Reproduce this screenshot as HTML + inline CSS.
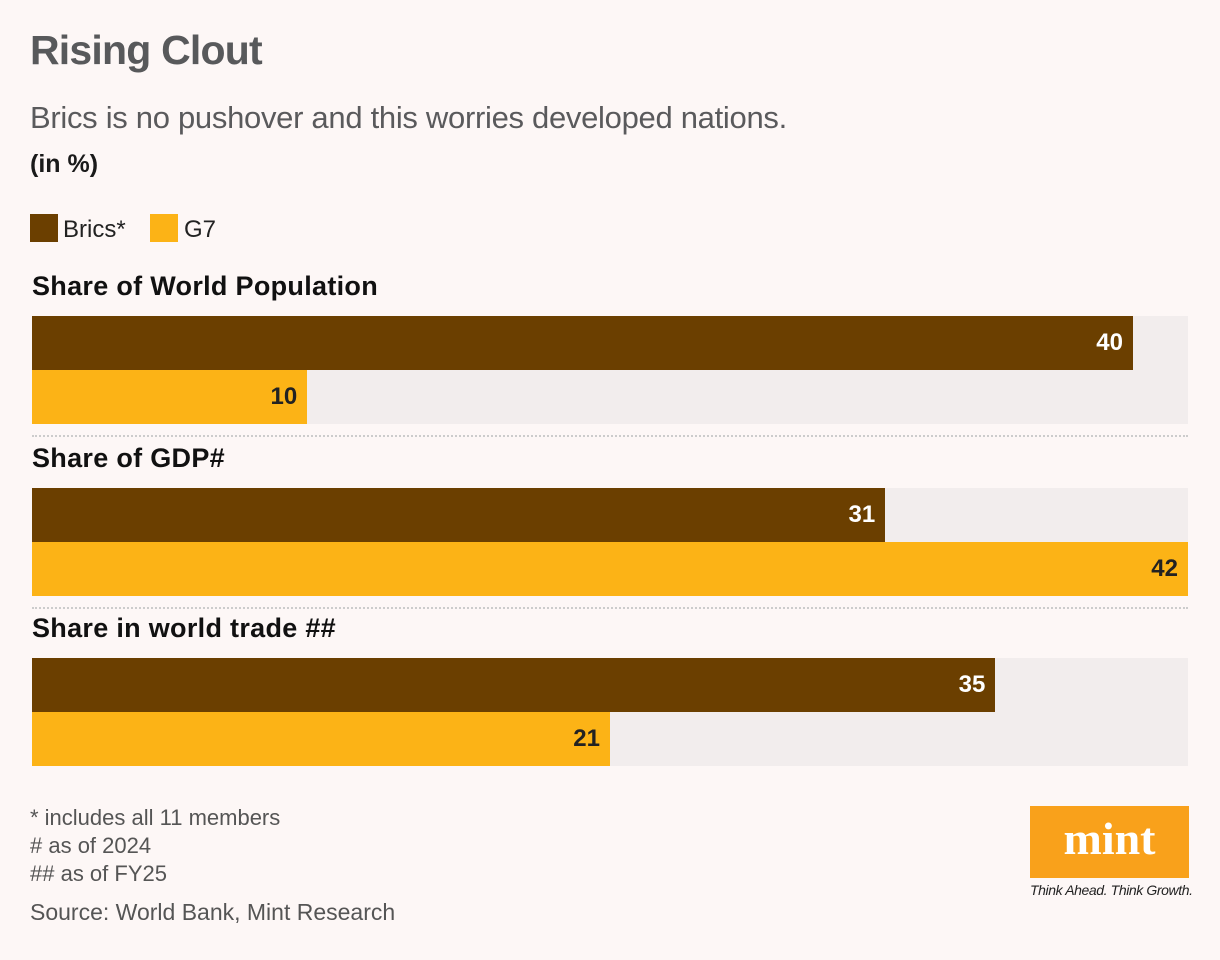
<!DOCTYPE html>
<html><head><meta charset="utf-8"><style>
body{margin:0;width:1220px;height:960px;background:#fdf7f6;font-family:"Liberation Sans",sans-serif;position:relative;overflow:hidden}
.a{position:absolute;white-space:nowrap}
.gt{font-weight:bold;font-size:27px;color:#111;letter-spacing:0.3px}
.fn{font-size:22px;color:#555}
</style></head><body>
<div class="a" style="left:30px;top:27px;font-size:41px;font-weight:bold;color:#58595b;letter-spacing:-0.8px">Rising Clout</div>
<div class="a" style="left:30px;top:100px;font-size:31px;color:#5a5a5c;letter-spacing:-0.3px">Brics is no pushover and this worries developed nations.</div>
<div class="a" style="left:30px;top:150px;font-size:25px;font-weight:bold;color:#1a1a1a">(in %)</div>
<div class="a" style="left:30px;top:214px;font-size:24px;color:#222"><span style="display:inline-block;width:28px;height:28px;background:#6b3f00;vertical-align:-5px;margin-right:5px"></span>Brics*</div>
<div class="a" style="left:150px;top:214px;font-size:24px;color:#222"><span style="display:inline-block;width:28px;height:28px;background:#fcb316;vertical-align:-5px;margin-right:6px"></span>G7</div>
<div id="chart"></div>
<div class="a fn" style="left:30px;top:805px">* includes all 11 members</div>
<div class="a fn" style="left:30px;top:833px"># as of 2024</div>
<div class="a fn" style="left:30px;top:861px">## as of FY25</div>
<div class="a fn" style="left:30px;top:899px;font-size:23px">Source: World Bank, Mint Research</div>
<div class="a" style="left:1030px;top:806px;width:159px;height:72px;background:#f9a11b;color:#fff;font-family:'Liberation Serif',serif;font-weight:bold;font-size:46px;text-align:center;line-height:66px">mint</div>
<div class="a" style="left:1030px;top:882px;font-size:14px;font-style:italic;color:#222;letter-spacing:-0.4px">Think Ahead. Think Growth.</div>
<script>
const categories=["Share of World Population","Share of GDP#","Share in world trade ##"];
const bricsValues=[40,31,35];
const g7Values=[10,42,21];
const maxVal=42;
const x0=32,trackW=1156,barH=54;
const groupTops=[316,488,658];
function xs(v){return v/maxVal*trackW;}
const c=document.getElementById('chart');
function mk(css,txt){const d=document.createElement('div');d.className='a';d.style.cssText=css;if(txt!==undefined)d.textContent=txt;c.appendChild(d);return d;}
categories.forEach((cat,i)=>{
  const t=groupTops[i];
  const title=mk('top:'+(t-45)+'px;left:32px','');title.className='a gt';title.textContent=cat;
  
  
  const tr=mk('left:'+x0+'px;top:'+t+'px;width:'+trackW+'px;height:'+(barH*2)+'px;background:#f2eded');
  
  
  [[bricsValues[i],'#6b3f00','#fff','bar-brics'],[g7Values[i],'#fcb316','#222','bar-g7']].forEach((s,j)=>{
    const w=xs(s[0]);
    const b=mk('left:'+x0+'px;top:'+(t+j*barH)+'px;width:'+w+'px;height:'+barH+'px;background:'+s[1]);
    
    
    const l=mk('left:'+x0+'px;top:'+(t+j*barH)+'px;width:'+(w-10)+'px;height:'+barH+'px;line-height:'+barH+'px;text-align:right;font-weight:bold;font-size:24px;color:'+s[2],String(s[0]));
    
    
  });
  if(i<categories.length-1){
    const sep=mk('left:'+x0+'px;top:'+(t+barH*2+11)+'px;width:'+trackW+'px;border-top:2px dotted #ccc');
    
    
  }
});
</script>
</body></html>
